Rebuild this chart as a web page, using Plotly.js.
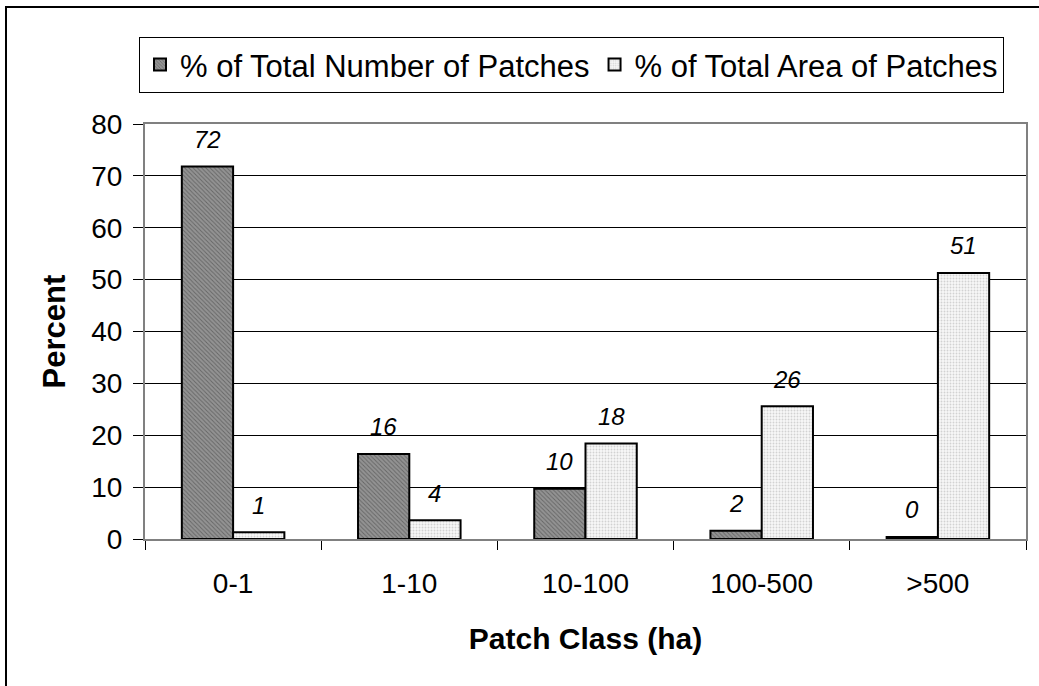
<!DOCTYPE html>
<html>
<head>
<meta charset="utf-8">
<script src="https://cdn.plot.ly/plotly-3.0.1.min.js"></script>
<style>
  html, body { margin: 0; padding: 0; background: #fff; }
  #wrap { position: relative; width: 1039px; height: 686px; overflow: hidden; }
  #frame { position: absolute; left: 5px; top: 6px; width: 1100px; height: 800px;
           border-left: 2px solid #000; border-top: 2px solid #000; pointer-events: none; z-index: 5; }
  #chart { position: absolute; left: 0; top: 0; width: 1039px; height: 686px; }
</style>
</head>
<body>
<div id="wrap">
  <div id="chart"></div>
  <div id="frame"></div>
</div>
<script>
const categories = ["0-1", "1-10", "10-100", "100-500", ">500"];
const seriesNames = ["% of Total Number of Patches", "% of Total Area of Patches"];
const numberPct = [71.8, 16.4, 9.7, 1.6, 0.4];
const areaPct = [1.3, 3.6, 18.4, 25.6, 51.3];
const numberLabels = ["72", "16", "10", "2", "0"];
const areaLabels = ["1", "4", "18", "26", "51"];
const yTicks = [0, 10, 20, 30, 40, 50, 60, 70, 80];

const FONT = "Liberation Sans, Arial, sans-serif";

const traces = [
  {
    type: "bar", name: seriesNames[0], x: categories, y: numberPct,
    marker: {
      color: "#8c8c8c",
      line: { color: "#000", width: 2 },
      pattern: { shape: "\\", size: 3, fgcolor: "#666666", bgcolor: "#939393", solidity: 0.3 }
    },
    hoverinfo: "skip"
  },
  {
    type: "bar", name: seriesNames[1], x: categories, y: areaPct,
    marker: {
      color: "#f2f2f2",
      line: { color: "#000", width: 2 },
      pattern: { shape: ".", size: 3, fgcolor: "#d2d2d2", bgcolor: "#f8f8f8", solidity: 0.3 }
    },
    hoverinfo: "skip"
  }
];

const annotations = [];
categories.forEach((c, i) => {
  annotations.push({ x: c, y: numberPct[i], xref: "x", yref: "y", text: numberLabels[i],
    showarrow: false, xshift: -25.6, yshift: 27, yanchor: "middle",
    font: { family: FONT, size: 24, color: "#000", style: "italic" } });
  annotations.push({ x: c, y: areaPct[i], xref: "x", yref: "y", text: areaLabels[i],
    showarrow: false, xshift: 25.6, yshift: 27, yanchor: "middle",
    font: { family: FONT, size: 24, color: "#000", style: "italic" } });
});

const layout = {
  width: 1039, height: 686,
  margin: { l: 145, r: 13, t: 123.5, b: 146.7, pad: 0 },
  paper_bgcolor: "#fff", plot_bgcolor: "#fff",
  font: { family: FONT, size: 28, color: "#000" },
  barmode: "group", bargap: 0.418, bargroupgap: 0,
  showlegend: true,
  legend: {
    orientation: "h", x: -0.0068, y: 1.21, xanchor: "left", yanchor: "top",
    bgcolor: "#fff", bordercolor: "#000", borderwidth: 1,
    font: { family: FONT, size: 31, color: "#000" },
    itemwidth: 30, tracegroupgap: 0, traceorder: "normal"
  },
  xaxis: {
    type: "category", showgrid: false, showline: true, linecolor: "#808080", linewidth: 2, mirror: true,
    ticks: "outside", tickson: "boundaries", ticklen: 9, tickcolor: "#000", tickwidth: 1,
    tickfont: { family: FONT, size: 28 }, ticklabelstandoff: 18,
    title: { text: "<b>Patch Class (ha)</b>", font: { family: FONT, size: 30 }, standoff: 30 },
    zeroline: false
  },
  yaxis: {
    range: [0, 80], tickvals: yTicks, showgrid: true, gridcolor: "#000", gridwidth: 1,
    showline: true, linecolor: "#808080", linewidth: 2, mirror: true,
    ticks: "outside", ticklen: 10, tickcolor: "#000", tickwidth: 1,
    tickfont: { family: FONT, size: 28 }, ticklabelstandoff: 5,
    zeroline: true, zerolinecolor: "#000", zerolinewidth: 1,
    title: { text: "<b>Percent</b>", font: { family: FONT, size: 31 }, standoff: 16 }
  },
  annotations: annotations
};

Plotly.newPlot("chart", traces, layout, { displayModeBar: false, staticPlot: true });
</script>
</body>
</html>
